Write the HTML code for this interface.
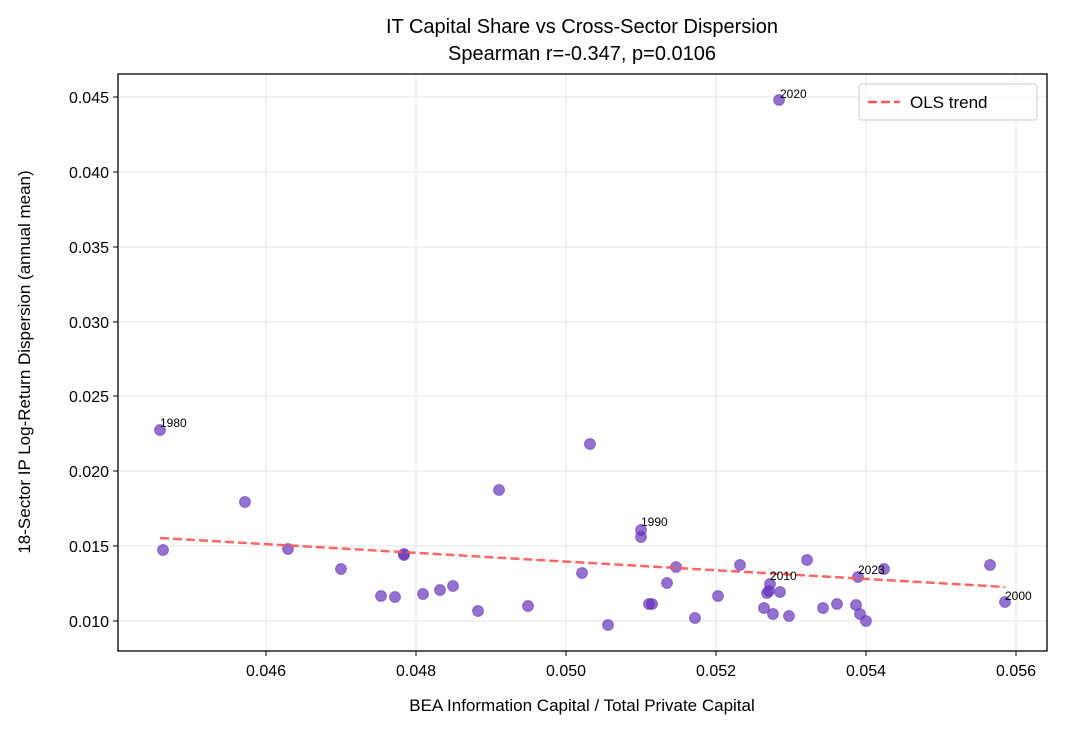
<!DOCTYPE html>
<html><head><meta charset="utf-8"><style>body{margin:0;background:#fff}</style></head><body>
<svg width="1065" height="729" xmlns="http://www.w3.org/2000/svg" font-family="Liberation Sans, DejaVu Sans, sans-serif">
<rect width="1065" height="729" fill="#fff"/>
<g stroke="#e6e6e6" stroke-width="1">
<line x1="266" y1="74" x2="266" y2="651"/><line x1="416" y1="74" x2="416" y2="651"/><line x1="566" y1="74" x2="566" y2="651"/><line x1="716" y1="74" x2="716" y2="651"/><line x1="866" y1="74" x2="866" y2="651"/><line x1="1016" y1="74" x2="1016" y2="651"/>
<line x1="118" y1="621" x2="1047" y2="621"/><line x1="118" y1="546" x2="1047" y2="546"/><line x1="118" y1="471" x2="1047" y2="471"/><line x1="118" y1="396" x2="1047" y2="396"/><line x1="118" y1="322" x2="1047" y2="322"/><line x1="118" y1="247" x2="1047" y2="247"/><line x1="118" y1="172" x2="1047" y2="172"/><line x1="118" y1="97" x2="1047" y2="97"/>
</g>
<g fill="rgb(102,51,187)" fill-opacity="0.7" stroke="rgb(102,51,187)" stroke-opacity="0.5">
<circle cx="160" cy="430" r="5.5"/><circle cx="163" cy="550" r="5.5"/><circle cx="245" cy="502" r="5.5"/><circle cx="288" cy="549" r="5.5"/><circle cx="341" cy="569" r="5.5"/><circle cx="381" cy="596" r="5.5"/><circle cx="395" cy="597" r="5.5"/><circle cx="404" cy="555" r="5.5"/><circle cx="404" cy="554" r="5.5"/><circle cx="423" cy="594" r="5.5"/><circle cx="440" cy="590" r="5.5"/><circle cx="453" cy="586" r="5.5"/><circle cx="478" cy="611" r="5.5"/><circle cx="499" cy="490" r="5.5"/><circle cx="528" cy="606" r="5.5"/><circle cx="582" cy="573" r="5.5"/><circle cx="590" cy="444" r="5.5"/><circle cx="608" cy="625" r="5.5"/><circle cx="641" cy="530" r="5.5"/><circle cx="641" cy="537" r="5.5"/><circle cx="649" cy="604" r="5.5"/><circle cx="652" cy="604" r="5.5"/><circle cx="667" cy="583" r="5.5"/><circle cx="676" cy="567" r="5.5"/><circle cx="695" cy="618" r="5.5"/><circle cx="718" cy="596" r="5.5"/><circle cx="740" cy="565" r="5.5"/><circle cx="764" cy="608" r="5.5"/><circle cx="767" cy="593" r="5.5"/><circle cx="769" cy="591" r="5.5"/><circle cx="770" cy="584" r="5.5"/><circle cx="773" cy="614" r="5.5"/><circle cx="780" cy="592" r="5.5"/><circle cx="779" cy="100" r="5.5"/><circle cx="789" cy="616" r="5.5"/><circle cx="807" cy="560" r="5.5"/><circle cx="823" cy="608" r="5.5"/><circle cx="837" cy="604" r="5.5"/><circle cx="856" cy="605" r="5.5"/><circle cx="858" cy="577" r="5.5"/><circle cx="860" cy="614" r="5.5"/><circle cx="866" cy="621" r="5.5"/><circle cx="884" cy="569" r="5.5"/><circle cx="990" cy="565" r="5.5"/><circle cx="1005" cy="602" r="5.5"/>
</g>
<line x1="160" y1="538" x2="1005" y2="587" stroke="#ff5555" stroke-opacity="0.9" stroke-width="2.5" stroke-dasharray="9,4"/>
<g font-size="12" fill="#000">
<text x="160" y="427">1980</text><text x="641" y="526">1990</text><text x="770" y="580">2010</text><text x="780" y="98">2020</text><text x="858" y="574">2023</text><text x="1005" y="600">2000</text>
</g>
<rect x="118" y="74" width="929" height="577" fill="none" stroke="#000" stroke-width="1.3"/>
<g stroke="#000"><line x1="266" y1="651" x2="266" y2="656"/><line x1="416" y1="651" x2="416" y2="656"/><line x1="566" y1="651" x2="566" y2="656"/><line x1="716" y1="651" x2="716" y2="656"/><line x1="866" y1="651" x2="866" y2="656"/><line x1="1016" y1="651" x2="1016" y2="656"/>
<line x1="113" y1="621" x2="118" y2="621"/><line x1="113" y1="546" x2="118" y2="546"/><line x1="113" y1="471" x2="118" y2="471"/><line x1="113" y1="396" x2="118" y2="396"/><line x1="113" y1="322" x2="118" y2="322"/><line x1="113" y1="247" x2="118" y2="247"/><line x1="113" y1="172" x2="118" y2="172"/><line x1="113" y1="97" x2="118" y2="97"/></g>
<g font-size="16" fill="#000" text-anchor="middle">
<text x="266" y="676">0.046</text><text x="416" y="676">0.048</text><text x="566" y="676">0.050</text><text x="716" y="676">0.052</text><text x="866" y="676">0.054</text><text x="1016" y="676">0.056</text>
</g>
<g font-size="16" fill="#000" text-anchor="end">
<text x="109" y="627">0.010</text><text x="109" y="552">0.015</text><text x="109" y="477">0.020</text><text x="109" y="402">0.025</text><text x="109" y="328">0.030</text><text x="109" y="253">0.035</text><text x="109" y="178">0.040</text><text x="109" y="103">0.045</text>
</g>
<text x="582" y="711" font-size="17" text-anchor="middle">BEA Information Capital / Total Private Capital</text>
<text transform="translate(30,362) rotate(-90)" font-size="17" text-anchor="middle">18-Sector IP Log-Return Dispersion (annual mean)</text>
<text x="582" y="33" font-size="20" text-anchor="middle">IT Capital Share vs Cross-Sector Dispersion</text>
<text x="582" y="60" font-size="20" text-anchor="middle">Spearman r=-0.347, p=0.0106</text>
<rect x="859" y="84" width="178" height="36" rx="3" fill="#fff" fill-opacity="0.8" stroke="#ccc"/>
<line x1="868" y1="102" x2="900" y2="102" stroke="#ff5555" stroke-width="2.5" stroke-dasharray="9,4"/>
<text x="910" y="108" font-size="17">OLS trend</text>
</svg>
</body></html>
